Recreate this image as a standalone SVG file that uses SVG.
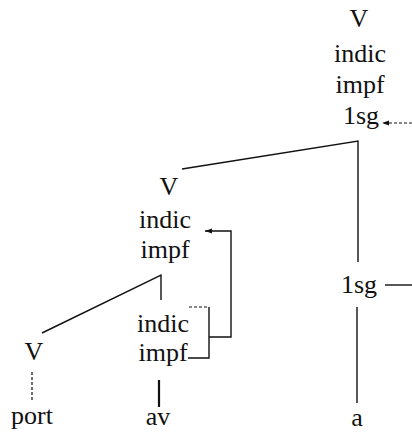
<svg xmlns="http://www.w3.org/2000/svg" width="412" height="433" viewBox="0 0 412 433">
  <style>
    text { font-family: "Liberation Serif", "Times New Roman", serif; font-size: 26px; fill: #111; text-anchor: middle; }
    .ln { stroke: #111; stroke-width: 1.4; fill: none; }
    .thick { stroke: #111; stroke-width: 2.2; fill: none; }
    .dash { stroke: #111; stroke-width: 1.2; fill: none; stroke-dasharray: 3 2; }
  </style>
  <defs>
    <!-- small filled arrowhead, tip at the end of the path -->
    <marker id="head" viewBox="0 0 10 10" refX="10" refY="5" markerWidth="8" markerHeight="7" orient="auto" markerUnits="userSpaceOnUse">
      <path d="M0,1.5 L10,5 L0,8.5 Z" fill="#111"/>
    </marker>
  </defs>

  <rect width="412" height="433" fill="#fff"/>

  <!-- connectors -->
  <g id="connectors">
    <!-- top node to its daughters -->
    <polyline class="ln" points="182,169 358,141 358,262"/>
    <!-- 1sg to a -->
    <line class="ln" x1="357" y1="307" x2="357" y2="403"/>
    <!-- 1sg outgoing -->
    <line class="ln" x1="385" y1="285" x2="412" y2="285"/>
    <!-- incoming arrow to top 1sg -->
    <line class="dash" x1="412" y1="123" x2="382" y2="123" marker-end="url(#head)"/>
    <!-- mid impf to V and lower feature bundle -->
    <polyline class="ln" points="42,333 161,275 161,300"/>
    <!-- bracket round lower indic/impf -->
    <line class="dash" x1="189" y1="307" x2="209" y2="307"/>
    <polyline class="ln" points="209,307 209,358 188,358"/>
    <!-- bracket link back up to mid indic -->
    <polyline class="ln" points="209,337 231,337 231,231 205,231" marker-end="url(#head)"/>
    <!-- lexical lines -->
    <line class="dash" x1="32" y1="372" x2="32" y2="402"/>
    <line class="thick" x1="159" y1="380" x2="159" y2="407"/>
  </g>

  <!-- top node -->
  <g id="node-top">
    <text x="359" y="27">V</text>
    <text x="360" y="62">indic</text>
    <text x="360" y="93">impf</text>
    <text x="361" y="124">1sg</text>
  </g>

  <!-- mid node -->
  <g id="node-mid">
    <text x="169" y="195">V</text>
    <text x="165" y="228">indic</text>
    <text x="165" y="258">impf</text>
  </g>

  <!-- lower feature bundle -->
  <g id="node-features">
    <text x="163" y="332">indic</text>
    <text x="163" y="361">impf</text>
  </g>

  <!-- lower V -->
  <g id="node-v">
    <text x="34" y="360">V</text>
  </g>

  <!-- person/number node -->
  <g id="node-1sg">
    <text x="359" y="293">1sg</text>
  </g>

  <!-- morphs -->
  <g id="node-port"><text x="32" y="424">port</text></g>
  <g id="node-av"><text x="158" y="425">av</text></g>
  <g id="node-a"><text x="357" y="426">a</text></g>
</svg>
